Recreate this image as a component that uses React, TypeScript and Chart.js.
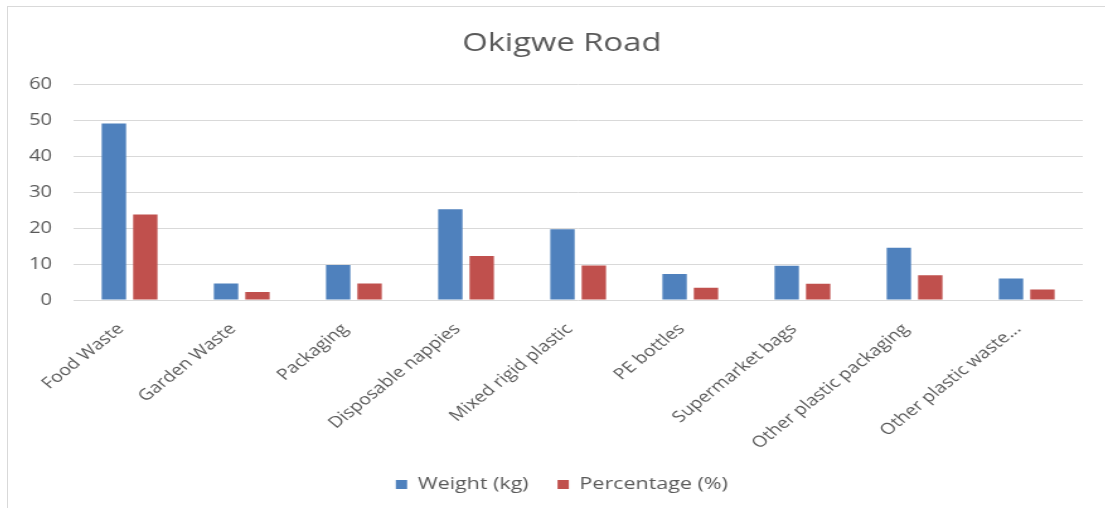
import React, { useEffect, useRef } from "react";
import { Chart, registerables } from "chart.js";

Chart.register(...registerables);

const categories = [
  "Food Waste",
  "Garden Waste",
  "Packaging",
  "Disposable nappies",
  "Mixed rigid plastic",
  "PE bottles",
  "Supermarket bags",
  "Other plastic packaging",
  "Other plastic waste...",
];
const weightKg = [49.1, 4.6, 9.7, 25.2, 19.7, 7.2, 9.5, 14.5, 6.0];
const percentage = [23.8, 2.2, 4.6, 12.2, 9.6, 3.4, 4.5, 6.9, 2.9];
const yTicks = [0, 10, 20, 30, 40, 50, 60];

const FONT = "'Open Sans', 'DejaVu Sans', sans-serif";
const TEXT = "#595959";
const STRETCH = 1.26;

export default function App() {
  const ref = useRef<HTMLCanvasElement | null>(null);

  useEffect(() => {
    document.body.style.overflow = "hidden";
    if (!ref.current) return;
    const chart = new Chart(ref.current, {
      type: "bar",
      data: {
        labels: categories,
        datasets: [
          {
            label: "Weight (kg)",
            data: weightKg,
            backgroundColor: "#4f81bd",
            categoryPercentage: 0.56,
            barPercentage: 0.776,
          },
          {
            label: "Percentage (%)",
            data: percentage,
            backgroundColor: "#c0504d",
            categoryPercentage: 0.56,
            barPercentage: 0.776,
          },
        ],
      },
      options: {
        animation: false,
        responsive: true,
        maintainAspectRatio: false,
        layout: { padding: { left: 15, right: 0, top: 0, bottom: 4 } },
        plugins: {
          title: {
            display: true,
            text: "Okigwe Road",
            color: TEXT,
            font: { family: FONT, size: 26, weight: "normal" },
            padding: { top: 21, bottom: 25 },
          },
          legend: {
            position: "bottom",
            labels: {
              color: TEXT,
              font: { family: FONT, size: 17 },
              boxWidth: 9,
              boxHeight: 9,
              padding: 23,
            },
          },
          tooltip: { enabled: false },
        },
        scales: {
          x: {
            grid: { display: false },
            border: { display: false },
            ticks: {
              color: TEXT,
              font: { family: FONT, size: 15.5 },
              minRotation: 45,
              maxRotation: 45,
              autoSkip: false,
              padding: 12,
              labelOffset: -7,
            },
            afterFit: (s: any) => {
              s.height = 153;
              s.paddingRight = 11;
            },
          },
          y: {
            min: 0,
            max: 60,
            afterBuildTicks: (s: any) => {
              s.ticks = yTicks.map((v) => ({ value: v }));
            },
            ticks: {
              color: TEXT,
              font: { family: FONT, size: 16 },
              padding: 17,
            },
            grid: { color: "#d9d9d9", drawTicks: false, lineWidth: 1 },
            border: { display: false },
            afterFit: (s: any) => {
              s.width = 37;
            },
          },
        },
      },
    });
    return () => chart.destroy();
  }, []);

  return (
    <>
      <div
        style={{
          position: "absolute",
          left: 7,
          top: 6,
          width: 1098,
          height: 502,
          boxSizing: "border-box",
          borderTop: "1px solid #d9d9d9",
          borderLeft: "1px solid #d9d9d9",
        }}
      />
      <div
        style={{
          position: "absolute",
          left: 8,
          top: 7,
          width: 864,
          height: 500,
          transform: `scaleX(${STRETCH})`,
          transformOrigin: "0 0",
        }}
      >
        <canvas ref={ref} />
      </div>
    </>
  );
}
